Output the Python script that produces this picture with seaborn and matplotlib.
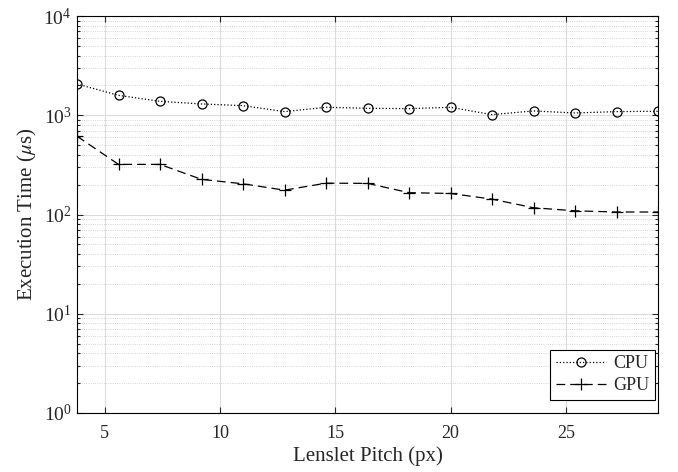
import numpy as np
import pandas as pd
import matplotlib
matplotlib.use('Agg')
import matplotlib.pyplot as plt
import seaborn as sns
from matplotlib.ticker import LogLocator, NullFormatter, MultipleLocator

pitch = [3.8, 5.6, 7.4, 9.2, 11.0, 12.8, 14.6, 16.4, 18.2, 20.0, 21.8, 23.6, 25.4, 27.2, 29.0]
cpu_us = [2066, 1589, 1383, 1300, 1251, 1089, 1204, 1176, 1167, 1204, 1015, 1106, 1055, 1089, 1097]
gpu_us = [615, 320, 320, 226, 204, 176, 207, 206, 166, 163, 143, 117, 109, 106, 106]

sns.set_style('ticks')
plt.rcParams['font.family'] = ['Liberation Serif', 'DejaVu Serif']
plt.rcParams['mathtext.fontset'] = 'stix'

fig, ax = plt.subplots(figsize=(6.78, 4.72), dpi=100)
fig.subplots_adjust(left=0.1136, right=0.9705, top=0.966, bottom=0.125)

sns.lineplot(x=pitch, y=cpu_us, ax=ax, color='k', linestyle=':', linewidth=0.9,
             marker='o', markersize=6.5, mfc='none', mec='k', mew=0.9, label='CPU')
sns.lineplot(x=pitch, y=gpu_us, ax=ax, color='k', linestyle=(0, (7, 4)), linewidth=0.9,
             marker='+', markersize=8.5, mec='k', mew=0.9, label='GPU')

ax.set_yscale('log')
ax.set_ylim(1, 1e4)
ax.set_xlim(3.8, 29)
ax.xaxis.set_major_locator(MultipleLocator(5))
ax.yaxis.set_major_locator(LogLocator(base=10, numticks=10))
ax.yaxis.set_minor_locator(LogLocator(base=10, subs=np.arange(2, 10), numticks=100))
ax.yaxis.set_minor_formatter(NullFormatter())

ax.grid(True, which='major', color='#dcdcdc', linewidth=0.8, linestyle='-')
ax.grid(True, which='minor', axis='y', color='#c8c8c8', linewidth=0.6, linestyle=':')
ax.set_axisbelow(True)

ax.tick_params(which='both', direction='in', top=True, right=True, width=0.8)
ax.tick_params(axis='x', labelsize=13, pad=9)
ax.tick_params(axis='y', labelsize=14, pad=4)
ax.tick_params(which='major', length=4)
ax.tick_params(which='minor', length=2.5)
for s in ax.spines.values():
    s.set_linewidth(0.8)
    s.set_color('k')

ax.set_xlabel('Lenslet Pitch (px)', fontsize=15, labelpad=3)
ax.set_ylabel(r'Execution Time ($\mu$s)', fontsize=15, labelpad=3)

leg = ax.legend(loc='lower right', bbox_to_anchor=(0.995, 0.033), borderaxespad=0,
                fontsize=13, frameon=True, fancybox=False, edgecolor='k', framealpha=1,
                handlelength=2.8, labelspacing=0.3, borderpad=0.3, handletextpad=0.4)
leg.get_frame().set_linewidth(0.8)

fig.savefig('out.png', dpi=100)
